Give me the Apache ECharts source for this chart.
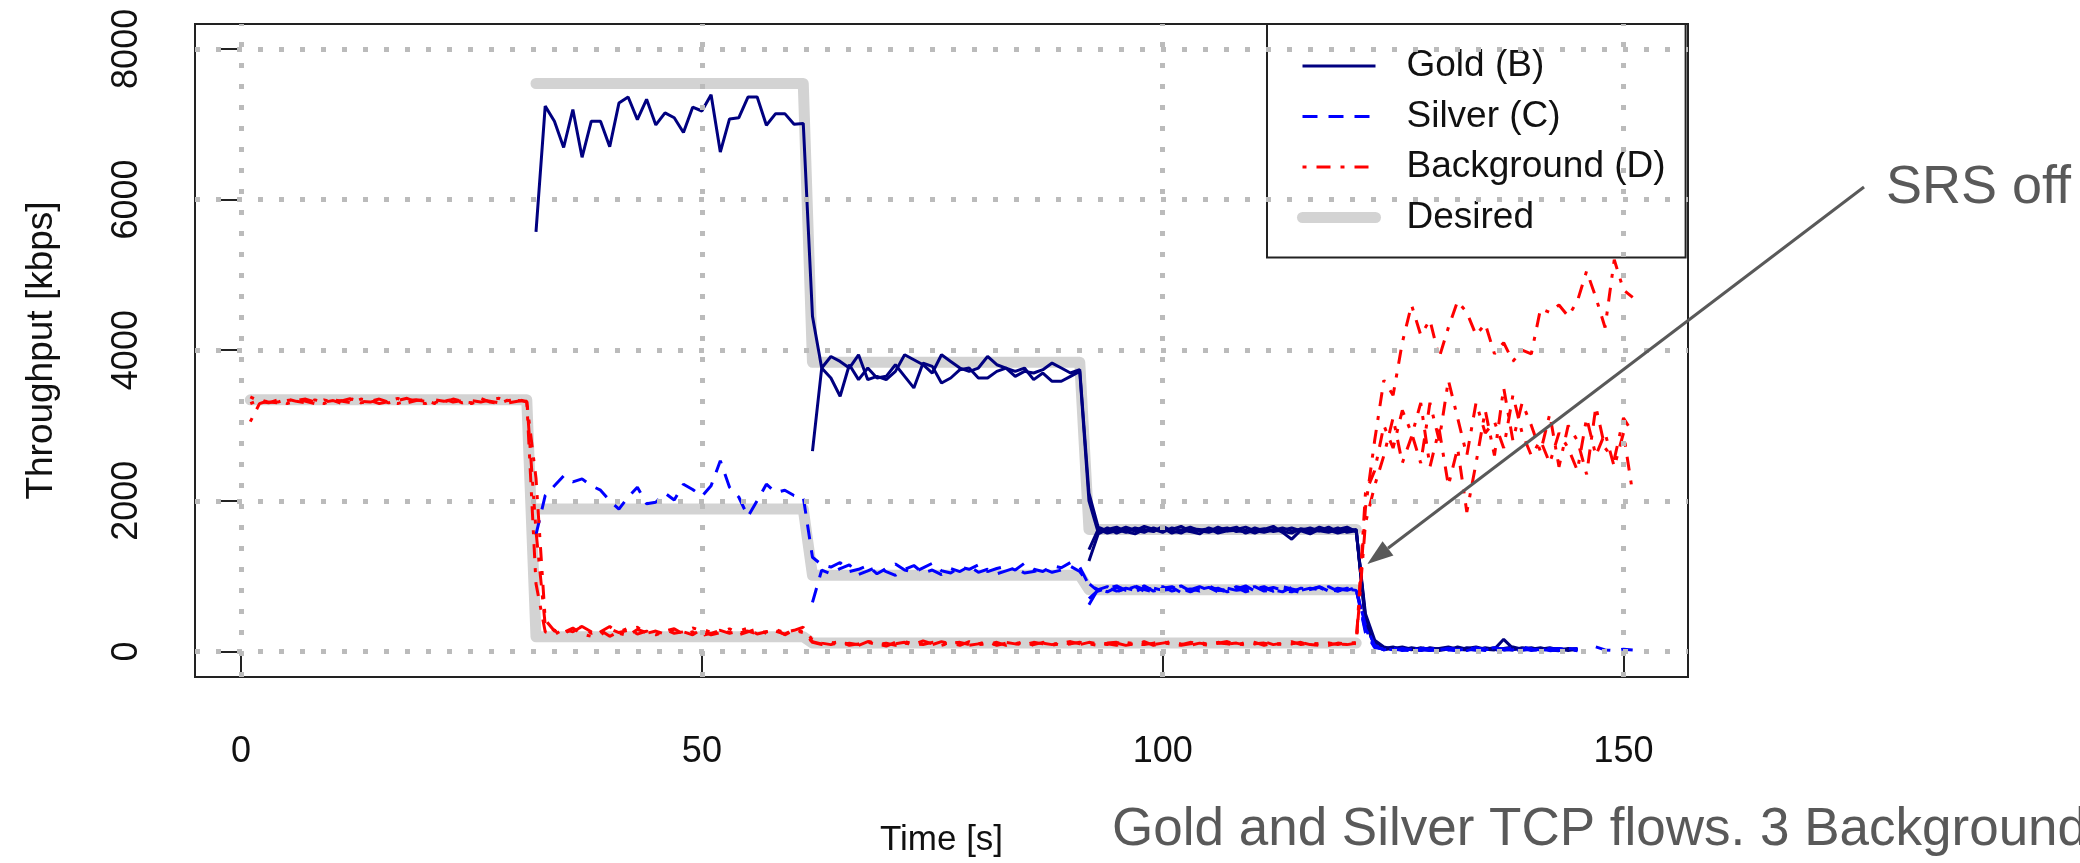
<!DOCTYPE html>
<html>
<head>
<meta charset="utf-8">
<script src="https://cdn.jsdelivr.net/npm/echarts@6/dist/echarts.min.js"></script>
<style>
  html, body { margin: 0; padding: 0; background: #fff; }
  #chart { width: 2080px; height: 863px; }
</style>
</head>
<body>
<div id="chart"></div>
<script>
// axis ticks
const xTicks = [0, 50, 100, 150];
const yTicks = [0, 2000, 4000, 6000, 8000];

// throughput [kbps], one sample per second, first sample at *Start
const gold1Start = 32;
const gold1 = [
  5570, 7240, 7040, 6690, 7195, 6560, 7040, 7040, 6700, 7280, 7360, 7060, 7330, 6990, 7150,
  7085, 6890, 7225, 7175, 7390, 6630, 7070, 7085, 7360, 7360, 6985, 7140, 7140, 7000, 7010,
  4450,
  3762, 3916, 3850, 3762, 3938, 3608, 3652, 3608, 3718, 3938, 3872, 3806, 3696, 3938, 3850,
  3762, 3718, 3762, 3916, 3806, 3762, 3652, 3718, 3696, 3740, 3828, 3762, 3696, 3740,
  2100,
  1650, 1600, 1620, 1580, 1640, 1610, 1590, 1660, 1600, 1570, 1630, 1620, 1590, 1650, 1600,
  1610, 1580, 1640, 1600, 1620, 1590, 1570, 1630, 1610, 1600, 1650, 1590, 1620, 1610,
  450, 120, 40, 60, 20, 50, 30, 10, 40, 20, 60, 30, 20, 50, 30, 160, 40, 20, 30, 50, 20, 10, 30, 20
];
const gold2Start = 62;
const gold2 = [
  2660,
  3762, 3630, 3388, 3806, 3608, 3762, 3630, 3652, 3806, 3652, 3498, 3828, 3784, 3564, 3630,
  3740, 3762, 3630, 3630, 3718, 3762, 3718, 3762, 3608, 3696, 3586, 3586, 3652, 3718,
  2000,
  1580, 1640, 1570, 1620, 1600, 1660, 1620, 1580, 1640, 1610, 1590, 1560, 1640, 1600, 1620,
  1650, 1570, 1610, 1630, 1590, 1610, 1640, 1600, 1560, 1620, 1600, 1640, 1580, 1600,
  400, 90, 20, 40, 60, 30, 20, 40, 10, 30, 20, 40, 60, 30, 20, 40, 60, 30, 50, 20, 40, 30, 10, 30
];
const gold3Start = 92;
const gold3 = [
  1200,
  1560, 1620, 1650, 1590, 1560, 1620, 1600, 1640, 1570, 1610, 1650, 1600, 1580, 1620, 1640,
  1590, 1610, 1570, 1620, 1660, 1580, 1490, 1610, 1640, 1600, 1580, 1620, 1650, 1590,
  500, 150, 60, 30, 40, 20, 50, 30, 40, 60, 30, 20, 40, 30, 50, 20, 30, 40, 20, 30, 50, 20, 40, 30
];
const gold4Start = 92;
const gold4 = [
  1350,
  1620, 1570, 1600, 1650, 1610, 1580, 1640, 1600, 1620, 1660, 1590, 1610, 1630, 1570, 1600,
  1620, 1650, 1600, 1580, 1610, 1640, 1600, 1620, 1590, 1650, 1610, 1570, 1600, 1620,
  380, 80, 30, 50, 30, 40, 10, 50, 30, 40, 10, 50, 30, 20, 40, 30, 20, 50, 40, 20, 30, 40, 20, 40
];

const silver1Start = 32;
const silver1 = [
  1550, 2070, 2200, 2330, 2250, 2290, 2200, 2140, 2000, 1890, 2050, 2180, 1960, 1980, 2100,
  2010, 2220, 2150, 2060, 2200, 2530, 2180, 2050, 1790, 2000, 2220, 2110, 2140, 2070, 2050,
  1250,
  1150, 1120, 1180, 1060, 1090, 1140, 1030, 1100, 1160, 1080, 1050, 1110, 1170, 1070, 1040,
  1120, 1090, 1150, 1060, 1100, 1130, 1080, 1170, 1090, 1060, 1140, 1110, 1180, 1120,
  880,
  820, 860, 790, 840, 810, 870, 800, 830, 850, 780, 820, 860, 810, 840, 790,
  830, 870, 800, 820, 850, 810, 790, 840, 820, 860, 800, 830, 810, 850,
  300, 70, 20, 40, 10, 30, 50, 20, 10, 40, 20, 30, 50, 20, 40, 30, 20, 60, 30, 20, 40, 10, 30, 20,
  null, 60, 20, 10, 30, 20
];
const silver2Start = 62;
const silver2 = [
  650,
  1080, 1030, 1100, 1150, 1020, 1070, 1120, 1060, 1010, 1090, 1140, 1040, 1080, 1020, 1100,
  1060, 1130, 1050, 1090, 1030, 1070, 1110, 1040, 1060, 1100, 1050, 1080, 1130, 1060,
  900,
  800, 840, 870, 810, 790, 850, 820, 860, 800, 830, 790, 840, 870, 810, 820,
  850, 790, 830, 860, 800, 840, 810, 780, 830, 850, 820, 800, 840, 820,
  250, 50, 30, 10, 40, 20, 30, 10, 40, 30, 20, 50, 30, 10, 40, 20, 30, 40, 10, 30, 20, 40, 20, 10
];
const silver3Start = 92;
const silver3 = [
  620,
  830, 790, 850, 820, 860, 800, 840, 810, 830, 870, 800, 820, 850, 790, 840,
  810, 830, 860, 800, 820, 790, 850, 810, 840, 820, 860, 800, 830, 810,
  350, 80, 40, 20, 30, 50, 10, 30, 20, 40, 30, 10, 40, 20, 50, 30, 10, 20, 40, 30, 10, 20, 40, 30
];
const silver4Start = 92;
const silver4 = [
  700,
  810, 850, 800, 830, 870, 820, 790, 840, 860, 810, 830, 800, 850, 820, 790,
  860, 830, 810, 840, 800, 860, 830, 800, 820, 850, 790, 840, 820, 830,
  280, 60, 30, 40, 20, 10, 40, 30, 50, 20, 10, 30, 20, 40, 10, 30, 50, 20, 30, 10, 40, 30, 20, 40
];

const bgStart = 1;
const bg1 = [
  3050, 3290, 3330, 3310, 3350, 3320, 3300, 3340, 3310, 3330, 3290, 3350, 3320, 3310, 3340, 3300,
  3330, 3360, 3310, 3290, 3340, 3320, 3350, 3300, 3330, 3310, 3340, 3360, 3300, 3320, 3340,
  1600, 350,
  280, 250, 310, 230, 200, 260, 330, 240, 210, 290, 250, 220, 270, 300,
  230, 260, 210, 240, 280, 250, 220, 260, 300, 240, 270, 230, 290, 260,
  130,
  100, 120, 80, 110, 90, 130, 100, 70, 120, 110, 90, 140, 100, 80, 110,
  120, 90, 100, 130, 80, 110, 100, 90, 120, 100, 80, 110, 130, 100,
  90, 110, 100, 80, 120, 100, 90, 110, 130, 100, 80, 100, 120, 90, 110,
  100, 80, 120, 100, 110, 90, 100, 130, 90, 110, 100, 80, 110, 100, 120,
  1900, 2800, 3600, 3400, 4100, 4600, 4200, 4400, 3900, 4300, 4650, 4500, 4200, 4350, 3950,
  4100, 3850, 4000, 3950, 4550, 4500, 4600, 4450, 4650, 5050, 4700, 4300, 5200, 4800, 4700
];
const bg2 = [
  3380, 3320, 3300, 3340, 3290, 3330, 3350, 3310, 3290, 3340, 3320, 3300, 3350, 3330, 3290, 3320,
  3360, 3300, 3330, 3340, 3290, 3310, 3350, 3320, 3300, 3360, 3310, 3290, 3340, 3330, 3320,
  900, 260,
  220, 300, 260, 330, 240, 280, 200, 260, 310, 230, 270, 220, 290, 240,
  260, 310, 280, 220, 250, 300, 240, 270, 230, 260, 290, 220, 280, 250,
  120,
  90, 110, 130, 80, 100, 120, 90, 110, 80, 130, 100, 90, 120, 100, 110,
  80, 130, 90, 100, 120, 80, 110, 100, 90, 120, 110, 80, 100, 120,
  100, 80, 110, 120, 90, 100, 130, 80, 110, 100, 90, 120, 100, 80, 110,
  130, 90, 100, 120, 80, 110, 90, 100, 120, 80, 100, 110, 90, 120, 100,
  2100, 2400, 3000, 2700, 3200, 2900, 2500, 3300, 2800, 3600, 3100, 2600, 3300, 2900, 3050,
  2700, 3400, 2900, 2600, 2800, 2500, 2900, 2700, 2400, 3100, 2600, 2900, 2450, 2900, 2100
];
const bg3 = [
  3290, 3340, 3310, 3300, 3330, 3350, 3320, 3290, 3340, 3310, 3330, 3360, 3300, 3320, 3350, 3310,
  3290, 3330, 3340, 3320, 3300, 3350, 3310, 3330, 3290, 3340, 3320, 3300, 3330, 3350, 3310,
  2300, 420,
  270, 240, 290, 330, 260, 220, 300, 250, 280, 320, 240, 270, 230, 290,
  260, 220, 300, 250, 280, 240, 270, 310, 230, 260, 290, 250, 280, 320,
  150,
  110, 90, 120, 100, 80, 130, 110, 90, 100, 120, 80, 110, 90, 130, 100,
  120, 80, 100, 110, 90, 120, 100, 130, 80, 110, 90, 120, 100, 90,
  120, 100, 90, 110, 80, 100, 120, 90, 110, 130, 100, 80, 110, 90, 120,
  100, 110, 80, 100, 130, 90, 110, 100, 120, 90, 80, 110, 100, 90, 110,
  1700, 2200, 2600, 3100, 2500, 2850, 3300, 2450, 2950, 2200, 2700, 1850, 2500, 3200, 2600,
  3500, 2800, 3300, 3000, 2650, 3150, 2450, 3000, 2800, 2350, 3250, 2700, 2550, 3100, 2900
];

// desired rates, [time, kbps] corners of the step lines
const desiredGold = [[32, 7540], [61, 7540], [62, 3840], [91, 3840], [92, 1620], [121, 1620]];
const desiredSilver = [[32, 1890], [61, 1890], [62, 1010], [91, 1010], [92, 820], [121, 820]];
const desiredBg = [[1, 3340], [31, 3340], [32, 195], [61, 195], [62, 110], [121, 110]];

// where the "SRS off" arrow points, [time, kbps]
const arrowTip = [122.2, 1160];

const FONT = 'Liberation Sans';
const GOLD = '#000080', SILVER = '#0000ff', BG = '#ff0000', DESIRED = '#d3d3d3';

const pairs = (start, values) => values.map((v, i) => [start + i, v]);

function flow(name, start, values, color, dash) {
  return {
    name, type: 'line', data: pairs(start, values),
    symbol: 'none', silent: true, connectNulls: false,
    itemStyle: { color },
    lineStyle: { color, width: 3, type: dash },
    emphasis: { disabled: true }
  };
}
function desired(data) {
  return {
    name: 'Desired', type: 'line', data, symbol: 'none', silent: true,
    itemStyle: { color: DESIRED },
    lineStyle: { color: DESIRED, width: 11, cap: 'round', join: 'round' },
    emphasis: { disabled: true }
  };
}

const silverDash = [15, 11];
const bgDash = [4, 10, 14, 10];

const chart = echarts.init(document.getElementById('chart'));

chart.setOption({
  animation: false,
  textStyle: { fontFamily: FONT },
  grid: {
    left: 195, right: 392, top: 24, bottom: 182,
    show: true, borderColor: '#222', borderWidth: 2, backgroundColor: 'transparent'
  },
  xAxis: {
    type: 'value', min: -5, max: 157,
    name: 'Time [s]', nameLocation: 'middle', nameGap: 146,
    nameTextStyle: { fontSize: 35, color: '#111', fontFamily: FONT },
    axisLine: { show: false },
    splitLine: { show: false },
    axisTick: { show: true, length: 22, customValues: xTicks, lineStyle: { color: '#222', width: 2 } },
    axisLabel: { customValues: xTicks, fontSize: 36, color: '#111', margin: 57, fontFamily: FONT }
  },
  yAxis: {
    type: 'value', min: -340, max: 8330,
    name: 'Throughput [kbps]', nameLocation: 'middle', nameRotate: 90, nameGap: 135,
    nameTextStyle: { fontSize: 37, color: '#111', fontFamily: FONT },
    axisLine: { show: false },
    splitLine: { show: false },
    axisTick: { show: true, length: 22, customValues: yTicks, lineStyle: { color: '#222', width: 2 } },
    axisLabel: {
      customValues: yTicks, rotate: 90, fontSize: 36, color: '#111', margin: 50, fontFamily: FONT,
      formatter: v => String(v)
    }
  },
  legend: {
    data: ['Gold (B)', 'Silver (C)', 'Background (D)', 'Desired'],
    orient: 'vertical', left: 1267, top: 24,
    padding: [22, 20, 20, 30],
    itemWidth: 73, itemHeight: 14, itemGap: 10.5,
    backgroundColor: '#fff', borderColor: '#222', borderWidth: 2, borderRadius: 0,
    selectedMode: false,
    textStyle: { fontFamily: FONT, fontSize: 37, color: '#111', lineHeight: 40, padding: [0, 0, 0, 26] },
    lineStyle: { width: 'inherit' },
    itemStyle: { opacity: 0 }
  },
  series: [
    {
      type: 'line', data: [], silent: true,
      markLine: {
        silent: true, symbol: ['none', 'none'], label: { show: false },
        lineStyle: { color: '#bbbbbb', width: 5, type: [5, 16] },
        emphasis: { disabled: true },
        data: xTicks.map(v => ({ xAxis: v })).concat(yTicks.map(v => ({ yAxis: v })))
      }
    },
    desired(desiredBg),
    desired(desiredSilver),
    desired(desiredGold),
    flow('Gold (B)', gold1Start, gold1, GOLD, 'solid'),
    flow('Gold (B)', gold2Start, gold2, GOLD, 'solid'),
    flow('Gold (B)', gold3Start, gold3, GOLD, 'solid'),
    flow('Gold (B)', gold4Start, gold4, GOLD, 'solid'),
    flow('Silver (C)', silver1Start, silver1, SILVER, silverDash),
    flow('Silver (C)', silver2Start, silver2, SILVER, silverDash),
    flow('Silver (C)', silver3Start, silver3, SILVER, silverDash),
    flow('Silver (C)', silver4Start, silver4, SILVER, silverDash),
    flow('Background (D)', bgStart, bg1, BG, bgDash),
    flow('Background (D)', bgStart, bg2, BG, bgDash),
    flow('Background (D)', bgStart, bg3, BG, bgDash)
  ]
});

// annotation: label, arrow to the moment SRS is switched off, caption
const tip = chart.convertToPixel({ xAxisIndex: 0, yAxisIndex: 0 }, arrowTip);
const tail = [1864, 187];
const ang = Math.atan2(tip[1] - tail[1], tip[0] - tail[0]);
const headLen = 26, headHalf = 9;
const base = [tip[0] - headLen * Math.cos(ang), tip[1] - headLen * Math.sin(ang)];
const nx = -Math.sin(ang), ny = Math.cos(ang);

chart.setOption({
  graphic: [
    {
      type: 'text', x: 1886, y: 188, silent: true,
      style: { text: 'SRS off', fontSize: 54, fontFamily: FONT, fill: '#595959', verticalAlign: 'middle' }
    },
    {
      type: 'text', x: 1112, y: 830, silent: true,
      style: { text: 'Gold and Silver TCP flows. 3 Background', fontSize: 53, fontFamily: FONT, fill: '#595959', verticalAlign: 'middle' }
    },
    {
      type: 'line', silent: true, z: 10,
      shape: { x1: tail[0], y1: tail[1], x2: base[0], y2: base[1] },
      style: { stroke: '#595959', lineWidth: 3 }
    },
    {
      type: 'polygon', silent: true, z: 10,
      shape: { points: [tip, [base[0] + nx * headHalf, base[1] + ny * headHalf], [base[0] - nx * headHalf, base[1] - ny * headHalf]] },
      style: { fill: '#595959' }
    }
  ]
});
</script>
</body>
</html>
